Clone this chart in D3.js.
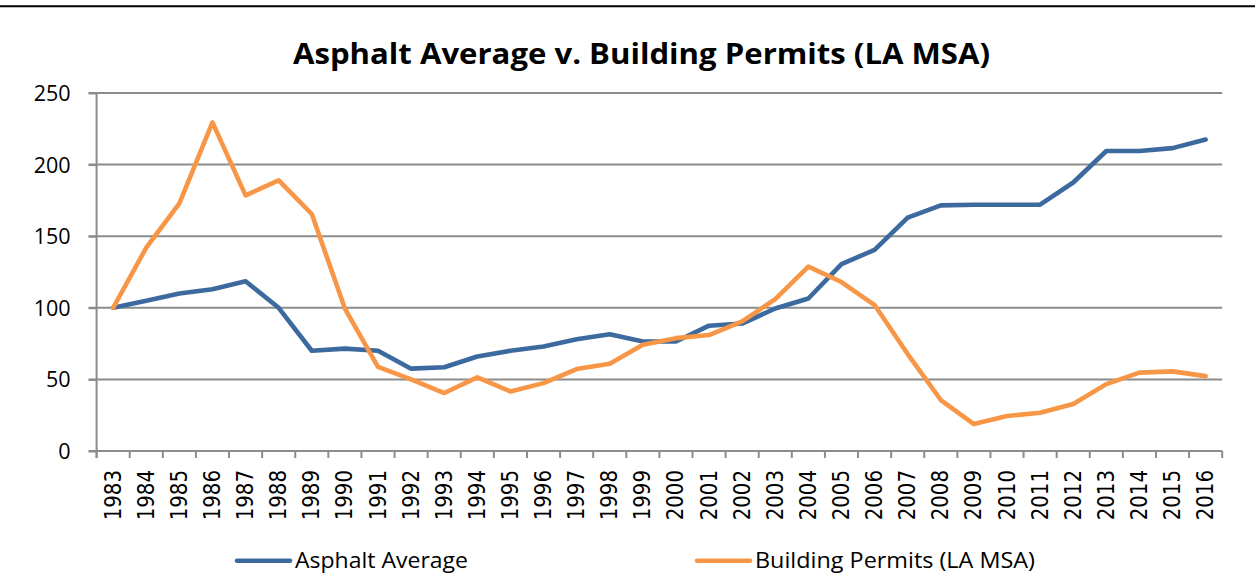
<!DOCTYPE html>
<html>
<head>
<meta charset="utf-8">
<script src="https://cdn.jsdelivr.net/npm/d3@7"></script>
<style>
  html, body { margin: 0; padding: 0; background: #fff; }
  svg { display: block; }
</style>
</head>
<body>
<svg id="chart" width="1255" height="582"></svg>
<script>
const years = [1983,1984,1985,1986,1987,1988,1989,1990,1991,1992,1993,1994,1995,1996,1997,1998,1999,2000,2001,2002,2003,2004,2005,2006,2007,2008,2009,2010,2011,2012,2013,2014,2015,2016];
const asphaltAverage = [100,105,110,113,118.5,100,70,71.5,70,57.5,58.5,66,70,73,78,81.5,76.5,76.5,87.5,89,99.5,106.5,130.5,140.5,163,171.5,172,172,172,187.5,209.5,209.5,211.5,217.5];
const buildingPermits = [100,142,173,229.5,178.5,189,165.5,99.5,58.8,50,40.5,51.4,41.6,47.4,57.2,61,74.2,78.8,81,90.5,106,128.8,118,101.9,67.7,35.6,18.8,24.4,26.7,32.8,46.7,54.7,55.6,52.3];
const yTicks = [0,50,100,150,200,250];
const seriesNames = ["Asphalt Average", "Building Permits (LA MSA)"];
const seriesColors = ["#3C6A9E", "#F79646"];
const titleText = "Asphalt Average v. Building Permits (LA MSA)";

(function () {
const svg = d3.select("#chart");
const pLeft = 96.6, pRight = 1222.2, pTop = 93, pBottom = 451;

// top border line
svg.append("line").attr("x1", 0).attr("x2", 1255).attr("y1", 6.3).attr("y2", 6.3)
  .attr("stroke", "#000").attr("stroke-width", 2);

const x = d3.scaleBand().domain(years).range([pLeft, pRight]).padding(0);
const y = d3.scaleLinear().domain([0, 250]).range([pBottom, pTop]);

// gridlines (with left tick)
svg.append("g").selectAll("line").data(yTicks.filter(d => d !== 0)).join("line")
  .attr("x1", pLeft - 8).attr("x2", pRight)
  .attr("y1", d => y(d)).attr("y2", d => y(d))
  .attr("stroke", "#8C8C8C").attr("stroke-width", 2);

// y axis
const yAxis = d3.axisLeft(y).tickValues(yTicks).tickSize(8).tickPadding(18).tickFormat(d3.format("d"));
const gy = svg.append("g").attr("transform", `translate(${pLeft},0)`).call(yAxis);
gy.select(".domain").remove();
gy.selectAll(".tick line").attr("stroke", "#8C8C8C").attr("stroke-width", 2);
gy.selectAll(".tick text").attr("font-family", "'Open Sans', sans-serif").attr("font-size", 21.5)
  .attr("fill", "#000").attr("dy", "0.35em");
gy.append("line").attr("x1", 0).attr("x2", 0).attr("y1", pTop).attr("y2", pBottom + 7)
  .attr("stroke", "#8C8C8C").attr("stroke-width", 2);

// x axis
const gx = svg.append("g").attr("transform", `translate(0,${pBottom})`);
gx.append("line").attr("x1", pLeft - 8).attr("x2", pRight).attr("y1", 0).attr("y2", 0)
  .attr("stroke", "#8C8C8C").attr("stroke-width", 2);
const boundaries = years.map(d => x(d)).concat([pRight]);
gx.selectAll("line.tk").data(boundaries).join("line").attr("class", "tk")
  .attr("x1", d => d).attr("x2", d => d).attr("y1", 0).attr("y2", 7)
  .attr("stroke", "#8C8C8C").attr("stroke-width", 2);
gx.selectAll("text").data(years).join("text")
  .attr("transform", d => `translate(${x(d) + x.bandwidth() / 2 + 7.5},19) rotate(-90) scale(1,1.15)`)
  .attr("text-anchor", "end")
  .attr("font-family", "'DejaVu Sans', sans-serif").attr("font-size", 19.8)
  .attr("fill", "#000")
  .text(d => d);

// lines
const line = d3.line().x((d, i) => x(years[i]) + x.bandwidth() / 2).y(d => y(d));
[asphaltAverage, buildingPermits].forEach((s, k) => {
  svg.append("path").datum(s).attr("d", line).attr("fill", "none")
    .attr("stroke", seriesColors[k]).attr("stroke-width", 4.6)
    .attr("stroke-linejoin", "round").attr("stroke-linecap", "round");
});

// title
svg.append("text").attr("x", 641.5).attr("y", 64).attr("text-anchor", "middle")
  .attr("font-family", "'Open Sans', sans-serif").attr("font-weight", "bold").attr("font-size", 29)
  .attr("textLength", 697).attr("lengthAdjust", "spacingAndGlyphs")
  .attr("fill", "#000").text(titleText);

// legend
const legendItems = [
  { name: seriesNames[0], color: seriesColors[0], x0: 237, x1: 290, tx: 295, tw: 173 },
  { name: seriesNames[1], color: seriesColors[1], x0: 697, x1: 750, tx: 755, tw: 280 }
];
const lg = svg.append("g");
legendItems.forEach(it => {
  lg.append("line").attr("x1", it.x0).attr("x2", it.x1).attr("y1", 560.7).attr("y2", 560.7)
    .attr("stroke", it.color).attr("stroke-width", 4.6).attr("stroke-linecap", "round");
  lg.append("text").attr("x", it.tx).attr("y", 567.5)
    .attr("font-family", "'Open Sans', sans-serif").attr("font-size", 21)
    .attr("textLength", it.tw).attr("lengthAdjust", "spacingAndGlyphs")
    .attr("fill", "#000").text(it.name);
});
})();
</script>
</body>
</html>
